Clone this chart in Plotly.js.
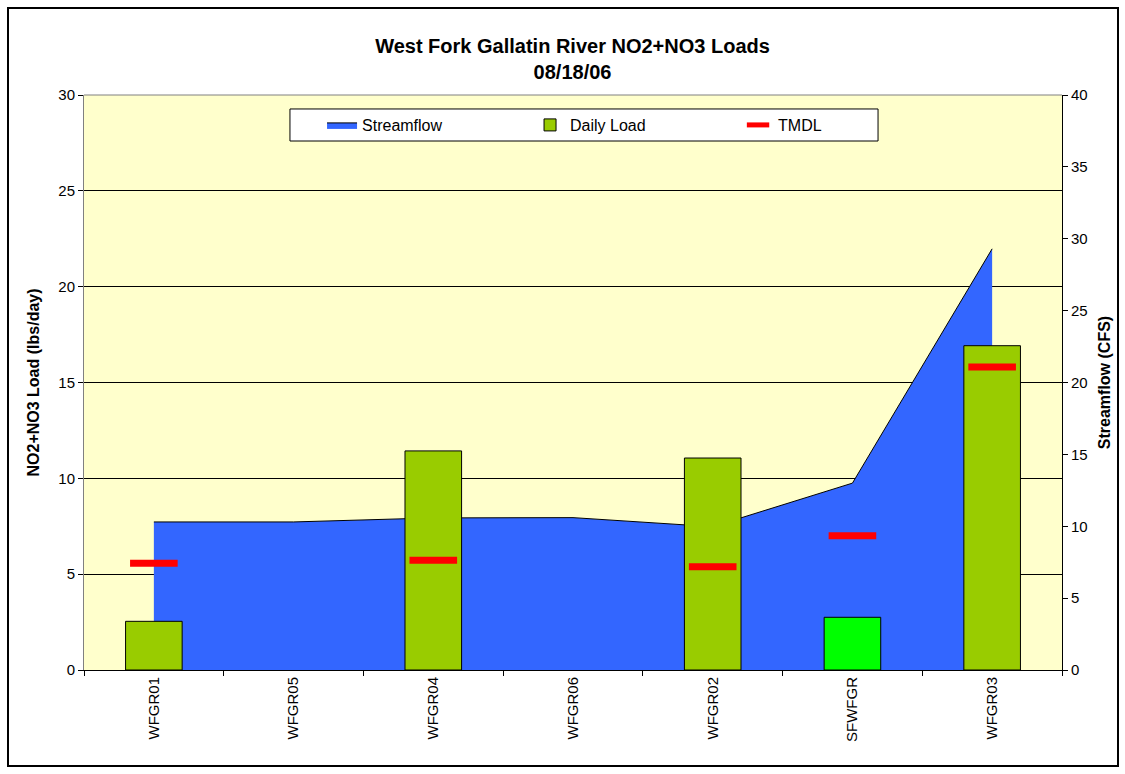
<!DOCTYPE html>
<html>
<head>
<meta charset="utf-8">
<script src="https://cdn.plot.ly/plotly-3.0.1.min.js"></script>
<style>
html,body{margin:0;padding:0;background:#fff;}
#wrap{position:relative;width:1125px;height:774px;}
#chart{width:1125px;height:774px;}
#frame{position:absolute;left:7px;top:7px;width:1108px;height:756px;border:2px solid #000;pointer-events:none;}
</style>
</head>
<body>
<div id="wrap"><div id="chart"></div><div id="frame"></div></div>
<script>
var categories = ["WFGR01","WFGR05","WFGR04","WFGR06","WFGR02","SFWFGR","WFGR03"];
var streamflow = [10.3, 10.3, 10.58, 10.6, 9.97, 13.0, 29.3];
var dailyLoad = [2.54, null, 11.43, null, 11.06, 2.75, 16.92];
var tmdl = [5.57, null, 5.72, null, 5.39, 7.01, 15.81];
var barColors = ["#99CC00","#99CC00","#99CC00","#99CC00","#99CC00","#00FF00","#99CC00"];

var font = "Arial, 'Liberation Sans', sans-serif";

var traces = [
  {
    name: "Streamflow", x: categories, y: streamflow, type: "scatter", mode: "lines",
    fill: "tozeroy", fillcolor: "#3366FF", line: {color: "#000", width: 1},
    xaxis: "x", yaxis: "y", hoverinfo: "skip"
  },
  {
    name: "Daily Load", x: categories, y: dailyLoad, type: "bar", width: 0.405,
    marker: {color: barColors, line: {color: "#000", width: 1}},
    xaxis: "x", yaxis: "y2"
  },
  {
    name: "TMDL", x: categories, y: tmdl, type: "scatter", mode: "markers",
    marker: {symbol: "line-ew-open", size: 34, color: "#FF0000", line: {color: "#FF0000", width: 7}},
    xaxis: "x", yaxis: "y2"
  }
];

var layout = {
  width: 1125, height: 774,
  margin: {l: 84, r: 63, t: 95, b: 104},
  paper_bgcolor: "#FFFFFF",
  plot_bgcolor: "#FFFFCC",
  font: {family: font, color: "#000", size: 15},
  title: {
    text: "<b>West Fork Gallatin River NO2+NO3 Loads<br>08/18/06</b>",
    font: {family: font, size: 20, color: "#000"},
    x: 0.5089, xanchor: "center", y: 0.932, yanchor: "top"
  },
  showlegend: true,
  barmode: "overlay",
  legend: {
    orientation: "h", x: 0.2434, xanchor: "left", y: 0.9478, yanchor: "middle",
    bgcolor: "rgba(0,0,0,0)", borderwidth: 0,
    font: {family: font, size: 16, color: "#000"},
    entrywidth: 163, entrywidthmode: "pixels", traceorder: "normal"
  },
  xaxis: {
    type: "category", range: [-0.5, 6.5], tickson: "boundaries",
    ticks: "outside", ticklen: 5, tickcolor: "#000",
    showline: true, linecolor: "#000", linewidth: 1,
    showgrid: false, tickangle: -90,
    tickfont: {family: font, size: 15, color: "#000"},
    fixedrange: true
  },
  yaxis: {
    range: [0, 40], dtick: 5, side: "right",
    ticks: "outside", ticklen: 5, tickcolor: "#000",
    showline: true, linecolor: "#000", linewidth: 1,
    showgrid: false, zeroline: false,
    tickfont: {family: font, size: 15, color: "#000"},
    title: {text: "<b>Streamflow (CFS)</b>", font: {family: font, size: 16, color: "#000"}, standoff: 12}
  },
  yaxis2: {
    range: [0, 30], dtick: 5, side: "left", overlaying: "y",
    ticks: "outside", ticklen: 5, tickcolor: "#000",
    showline: true, linecolor: "#808080", linewidth: 1,
    showgrid: true, gridcolor: "#000", gridwidth: 1, zeroline: false,
    tickfont: {family: font, size: 15, color: "#000"},
    title: {text: "<b>NO2+NO3 Load (lbs/day)</b>", font: {family: font, size: 16, color: "#000"}, standoff: 14}
  },
  shapes: [
    {type: "line", xref: "paper", yref: "paper", x0: 0, x1: 1, y0: 1, y1: 1, line: {color: "#808080", width: 1}},
    {type: "rect", xref: "paper", yref: "paper", x0: 0.2106, x1: 0.8119, y0: 0.92, y1: 0.9757,
     fillcolor: "#FFFFFF", line: {color: "#000", width: 1}, layer: "above"}
  ]
};

Plotly.newPlot("chart", traces, layout, {displayModeBar: false, staticPlot: true});
</script>
</body>
</html>
